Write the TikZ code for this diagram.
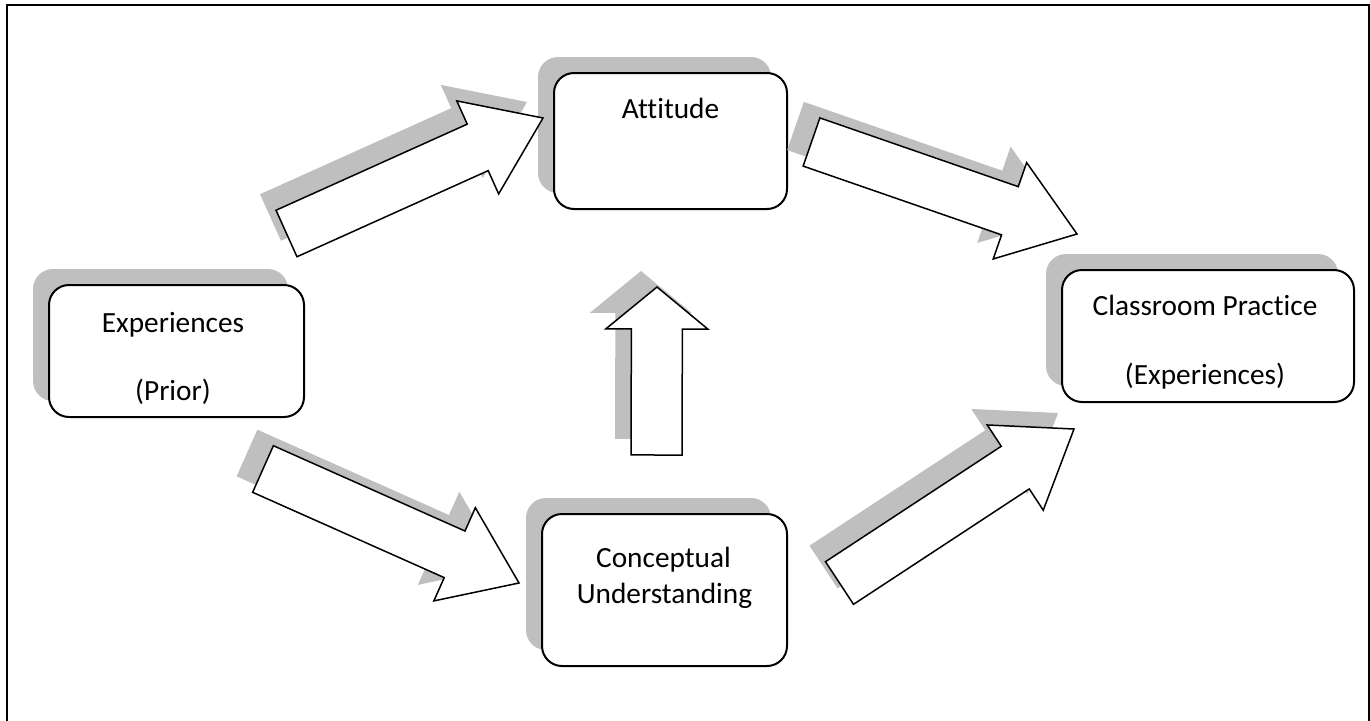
\documentclass[tikz,border=0pt]{standalone}
\usepackage{fontspec}
\setmainfont{Carlito}[Ligatures=NoCommon]
\usetikzlibrary{calc,shadows}

\definecolor{shadowgray}{RGB}{191,191,191}

\tikzset{
  box/.style={draw, line width=2pt, rounded corners=20pt, fill=white,
    drop shadow={shadow xshift=-16pt, shadow yshift=16pt, fill=shadowgray, opacity=1}},
  boxtext/.style={anchor=base, inner sep=0pt, font=\fontsize{29.3}{35.7}\selectfont},
  arrowbody/.style={draw, fill=white, line width=1.5pt, line join=miter},
  arrowshadow/.style={fill=shadowgray}
}

% outline of a block arrow, #1 = prefix of its coordinates (s = tail, h = head base, t = tip)
\newcommand{\arrowpath}[1]{($(#1s)!25.5pt!90:(#1t)$) -- ($(#1h)!25.5pt!90:(#1t)$) -- ($(#1h)!51pt!90:(#1t)$) -- (#1t) -- ($(#1h)!51pt!-90:(#1t)$) -- ($(#1h)!25.5pt!-90:(#1t)$) -- ($(#1s)!25.5pt!-90:(#1t)$) -- cycle}

% block arrow with its shadow, [#1] = head length, #2 = tail, #3 = tip
\newcommand{\blockarrow}[3][71]{%
  \coordinate (arr-s) at (#2);
  \coordinate (arr-t) at (#3);
  \coordinate (arr-h) at ($(arr-t)!#1pt!(arr-s)$);
  \coordinate (shd-s) at ($(arr-s)+(-16,-16)$);
  \coordinate (shd-t) at ($(arr-t)+(-16,-16)$);
  \coordinate (shd-h) at ($(arr-h)+(-16,-16)$);
  \fill[arrowshadow] \arrowpath{shd-};
  \filldraw[arrowbody] \arrowpath{arr-};
}

\begin{document}
\begin{tikzpicture}[x=1pt, y=-1pt]
  \useasboundingbox (0,0) rectangle (1370,720);
  \draw[line width=2pt] (7,5) rectangle (1368.5,723);

  % boxes
  \node[box, minimum width=255pt, minimum height=132pt] (exp) at (176.5,351) {};
  \node[box, minimum width=233pt, minimum height=136pt] (att) at (670.5,141) {};
  \node[box, minimum width=245pt, minimum height=152pt] (con) at (664.5,590) {};
  \node[box, minimum width=292pt, minimum height=132pt] (cls) at (1208,336) {};

  \node[boxtext] (exp-l1) at (173,332) {Experiences};
  \node[boxtext] (exp-l2) at (173,400) {(Prior)};
  \node[boxtext] (att-l1) at (670.5,118) {Attitude};
  \node[boxtext] (con-l1) at (663.5,567) {Conceptual};
  \node[boxtext] (con-l2) at (664.5,603) {Understanding};
  \node[boxtext] (cls-l1) at (1205,315) {Classroom Practice};
  \node[boxtext] (cls-l2) at (1205,384) {(Experiences)};

  % arrows
  \coordinate (exp-att-a) at (286.5,233.5);
  \coordinate (exp-att-b) at (543,118);
  \coordinate (att-cls-a) at (811.5,142);
  \coordinate (att-cls-b) at (1077,234);
  \coordinate (exp-con-a) at (263,469);
  \coordinate (exp-con-b) at (519,583);
  \coordinate (con-cls-a) at (839.5,583);
  \coordinate (con-cls-b) at (1074,429);
  \coordinate (con-att-a) at (656.5,455);
  \coordinate (con-att-b) at (657,287);

  \blockarrow[71.6]{exp-att-a}{exp-att-b}
  \blockarrow[71]{att-cls-a}{att-cls-b}
  \blockarrow[70.5]{exp-con-a}{exp-con-b}
  \blockarrow[70.3]{con-cls-a}{con-cls-b}
  \blockarrow[42]{con-att-a}{con-att-b}
\end{tikzpicture}
\end{document}
